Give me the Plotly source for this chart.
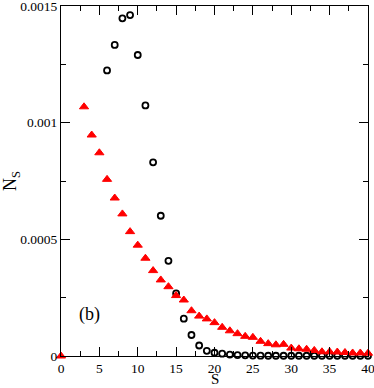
import plotly.graph_objects as go

s_circ = [6, 7, 8, 9, 10, 11, 12, 13, 14, 15, 16, 17, 18, 19, 20, 21, 22, 23, 24, 25, 26, 27, 28, 29, 30,
          31, 32, 33, 34, 35, 36, 37, 38, 39, 40]
n_circ = [0.001224, 0.001333, 0.001447, 0.001461, 0.00129, 0.001074, 0.00083, 0.000601, 0.000408,
          0.000268, 0.00016, 0.00009, 0.000045, 0.000022, 0.000014, 0.00001, 0.000006, 0.000004, 0.000003,
          0.000002, 0.0000015, 0.000001, 0.000001, 0.000001, 0.000001, 0.000001, 0.000001, 0.000001,
          0.000001, 0.000001, 0.000001, 0.000001, 0.000001, 0.000001, 0.000001]

s_tri = [0, 3, 4, 5, 6, 7, 8, 9, 10, 11, 12, 13, 14, 15, 16, 17, 18, 19, 20, 21, 22, 23, 24, 25, 26, 27,
         28, 29, 30, 31, 32, 33, 34, 35, 36, 37, 38, 39, 40]
n_tri = [0, 0.001068, 0.000947, 0.000871, 0.000757, 0.000677, 0.000609, 0.000533, 0.000475, 0.000419,
         0.000366, 0.000326, 0.000297, 0.000259, 0.00024, 0.000194, 0.000171, 0.000159, 0.000143, 0.000123,
         0.000108, 0.0000957, 0.0000843, 0.00008, 0.000063, 0.000053, 0.000048, 0.00005, 0.000034, 0.000031,
         0.000029, 0.000024, 0.000018, 0.000018, 0.000017, 0.000015, 0.000013, 0.000013, 0.000012]

x_ticks = [0, 5, 10, 15, 20, 25, 30, 35, 40]
y_ticks = [0, 0.0005, 0.001, 0.0015]
y_tick_labels = ["0", "0.0005", "0.001", "0.0015"]

FONT = "Liberation Serif, Times New Roman, serif"
X_RANGE = [0, 40.0001]
Y_RANGE = [0, 0.0015000001]

fig = go.Figure()
fig.add_trace(go.Scatter(
    x=s_circ, y=n_circ, mode="markers", cliponaxis=False,
    marker=dict(symbol="circle-open", size=6, color="black",
                line=dict(color="black", width=1.8)),
    showlegend=False))
fig.add_trace(go.Scatter(
    x=s_tri, y=n_tri, mode="markers", cliponaxis=False,
    marker=dict(symbol="triangle-up", size=8, color="#ff0000",
                line=dict(color="#ff0000", width=1)),
    showlegend=False))
# empty trace to anchor the mirrored (top/right) axes
fig.add_trace(go.Scatter(x=[], y=[], xaxis="x2", yaxis="y2", showlegend=False, hoverinfo="skip"))

fig.add_annotation(x=3.7, y=0.000176, text="(b)", showarrow=False,
                   font=dict(family=FONT, size=18, color="black"))
# x-axis title
fig.add_annotation(xref="paper", yref="paper", x=0.5, y=0, yanchor="bottom", yshift=-33,
                   text="S", showarrow=False, font=dict(family=FONT, size=15, color="black"))

axis_common = dict(showgrid=False, zeroline=False, showline=True, linecolor="black", linewidth=1,
                   ticks="inside", ticklen=9, tickwidth=1, tickcolor="black",
                   automargin=False, ticklabeloverflow="allow",
                   tickfont=dict(family=FONT, size=13.5, color="black"))

fig.update_layout(
    xaxis=dict(range=X_RANGE, tickvals=x_ticks, ticktext=[str(v) for v in x_ticks],
               minor=dict(ticks="inside", ticklen=5, tickcolor="black", dtick=2.5, tick0=0),
               **axis_common),
    yaxis=dict(range=Y_RANGE, tickvals=y_ticks, ticktext=y_tick_labels,
               minor=dict(ticks="inside", ticklen=5, tickcolor="black", dtick=0.00025, tick0=0),
               title=dict(text="N<sub>S</sub>", font=dict(family=FONT, size=18, color="black"), standoff=4),
               **axis_common),
    xaxis2=dict(range=X_RANGE, overlaying="x", side="top", anchor="y2", tickvals=x_ticks,
                showticklabels=False,
                minor=dict(ticks="inside", ticklen=5, tickcolor="black", dtick=2.5, tick0=0),
                **axis_common),
    yaxis2=dict(range=Y_RANGE, overlaying="y", side="right", anchor="x2", tickvals=y_ticks,
                showticklabels=False,
                minor=dict(ticks="inside", ticklen=5, tickcolor="black", dtick=0.00025, tick0=0),
                **axis_common),
    width=374, height=388, margin=dict(l=61, r=6, t=6, b=32),
    plot_bgcolor="white", paper_bgcolor="white")

fig.write_html("out.html", config={"displayModeBar": False},
               post_script="document.body.style.margin='0';")
